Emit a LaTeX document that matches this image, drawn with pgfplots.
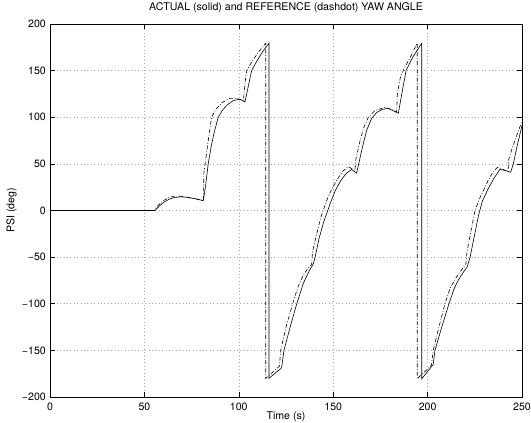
\documentclass[border=0pt]{standalone}
\usepackage{pgfplots}
\pgfplotsset{compat=1.18}
\usepackage{fontspec}
\setmainfont{TeX Gyre Heros}
\begin{document}
\fontsize{10.6bp}{12.5bp}\selectfont
\begin{tikzpicture}
\begin{axis}[
 at={(0,0)}, anchor=south west,
 scale only axis, width=472bp, height=373bp,
 xmin=0, xmax=250, ymin=-200, ymax=200,
 xtick={0,50,100,150,200,250}, ytick={-200,-150,-100,-50,0,50,100,150,200},
 xticklabels={0,50,100,150,200,250},
 yticklabels={−200,−150,−100,−50,0,50,100,150,200},
 tick align=inside, major tick length=5bp,
 tick style={black, line width=0.5bp},
 axis line style={line width=0.9bp},
 grid=major,
 major grid style={gray!70, line width=0.5bp, dash pattern=on 0.6bp off 2.8bp},
 xticklabel style={anchor=north, inner sep=0pt, yshift=-5.5bp},
 yticklabel style={anchor=east, inner sep=0pt, xshift=-4bp},
 title={ACTUAL (solid) and REFERENCE (dashdot) YAW ANGLE},
 title style={at={(axis description cs:0.5,1)}, anchor=south, inner sep=0pt, yshift=5bp},
 xlabel={Time (s)},
 xlabel style={at={(axis description cs:0.5,0)}, anchor=north, inner sep=0pt, yshift=-15bp},
 ylabel={PSI (deg)},
 ylabel style={at={(axis description cs:-0.0699,0.5)}, anchor=south, inner sep=0pt},
]
\addplot[black, line width=0.6bp, dash pattern=on 4bp off 1.8bp on 0.8bp off 1.8bp] table {
0 0
55 0
57 5
60 10.5
63 14
66 15.5
70 15.2
75 13.3
81.3 11
81.5 40
82.5 55
84 78
85.6 100
88 109
91 115.5
95.3 120.3
99 120
102.4 118
103.5 140
104.2 150
107 160
110.5 170
114.3 179.3
114.3 -180
121.5 -167
122.2 -150
125 -125
128.5 -100
131.5 -81
134 -70
136.5 -62
138.6 -58
139 -45
141 -27
143.5 -7
146.6 11
149 22
152 33
155 42
158 47
161.5 43
162 55
164 73
166 88
168.6 100
172 107
177.4 110.7
183.6 106
184 125
185.5 142
187.5 152
191 165
194.5 179.3
194.5 -180.5
202 -166
203 -150
206 -125
209.2 -100
212 -83
215.4 -71
220.3 -57
220.8 -45
222.5 -27
225.1 0
228 15
232.2 32.7
234.5 41
237 46.3
242.6 42
243 55
245 68
247.5 82
250 96
};
\addplot[black, line width=0.6bp] table {
0 0
55.6 0
57.5 4
60 8.5
63 12
66 14
69 14.6
72 14.3
76 13
81.2 10.5
82.5 28
83.8 50
85.5 70
87 84
89.1 100
91.5 108
94 113.5
97 117.8
100.6 119.4
103.3 116.5
105 133
106.8 150
109.5 160
112.5 170
116 179.5
116 -180
122.7 -168.6
123.9 -150
127.2 -125
130.7 -100
134.2 -78
137 -66
139.5 -57
140.4 -50
142.5 -30
145 -12
148.5 8
151 21
154 32
157 40
159.8 44
162.4 40
163.5 50
165.5 68
167.7 86
170.4 99
173 105
176 108.5
179.2 109.6
184.5 104.2
186.5 127
188.6 150
192 164
196.9 179.3
196.9 -180.5
203 -165
203.9 -150
207.5 -125
211.3 -100
214 -84
216.3 -74.5
219 -66
221 -60.3
222.5 -50
225 -25
227 -5
229 10
232 23
235 34
238.3 44
241 43
244 41
245.4 50
247.5 70
250 91
};
\end{axis}
\pgfresetboundingbox
\path[use as bounding box] (-50bp,-26bp) rectangle (481bp,397bp);
\end{tikzpicture}
\end{document}
